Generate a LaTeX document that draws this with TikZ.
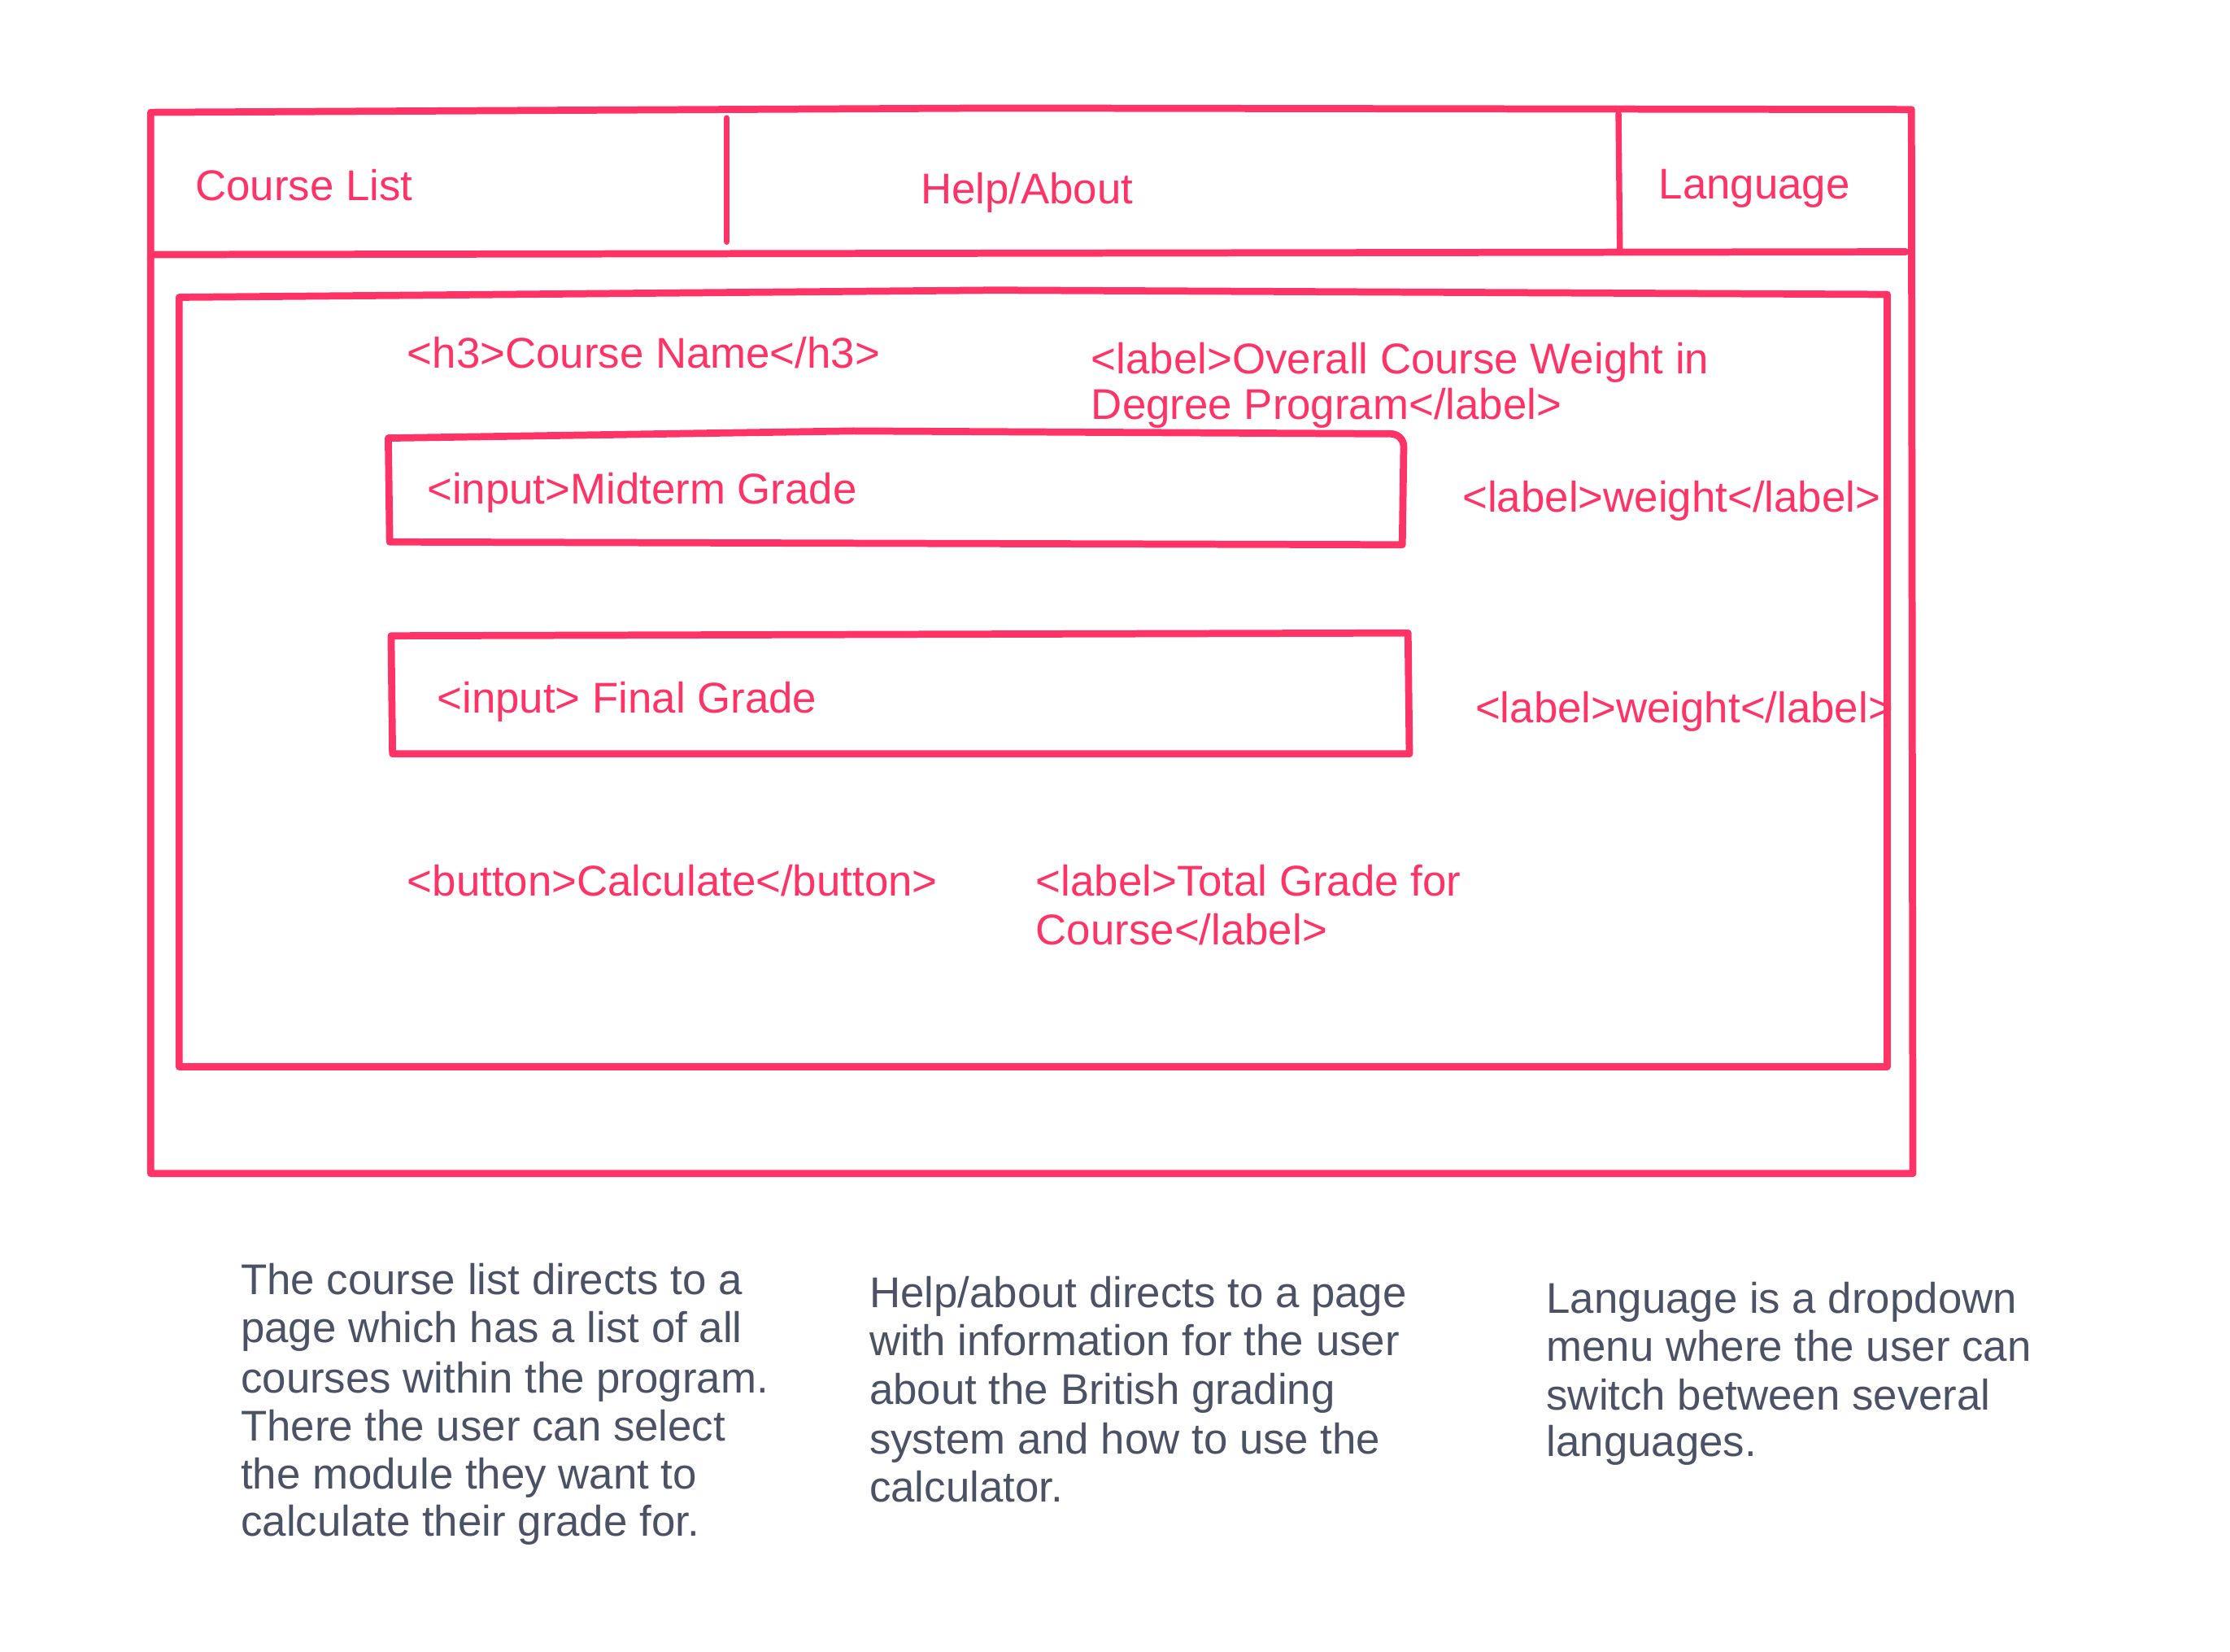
\documentclass[tikz,border=0pt]{standalone}
\usepackage{fontspec}
\setmainfont{Liberation Sans}
\definecolor{pinkc}{RGB}{255,51,102}
\definecolor{grayc}{RGB}{75,82,102}
\begin{document}
\begin{tikzpicture}[x=0.5pt,y=-0.5pt,
  sketch/.style={draw=pinkc,line width=2.5pt,line join=round,line cap=round},
  divider/.style={draw=pinkc,line width=2.1pt,line cap=round},
  ptxt/.style={text=pinkc,font=\fontsize{15.1}{17}\selectfont,anchor=base west,inner sep=0pt},
  gtxt/.style={text=grayc,font=\fontsize{15.1}{17}\selectfont,anchor=base west,inner sep=0pt}]
\useasboundingbox (0,0) rectangle (1568,1161.4);
% outer frame
\draw[sketch] (106,79) -- (700,76) -- (1344,77) -- (1345,825) -- (106,825) -- cycle;
% nav bar
\draw[sketch] (108,179) -- (1340,177);
\draw[divider] (511,83) -- (511,170);
\draw[divider] (1138,80) -- (1139,177);
% inner box
\draw[sketch] (126,209) -- (700,204) -- (1327,207) -- (1327,750) -- (126,750) -- cycle;
% midterm input
\draw[sketch] (273,308) -- (600,303) -- (978,305) to[out=0,in=90] (987,314) -- (986,383) -- (274,381) -- cycle;
% final input
\draw[sketch] (275,447) -- (990,445) -- (991,530) -- (276,530) -- cycle;
% nav texts
\node[ptxt] (cl) at (137,141) {Course List};
\node[ptxt] (ha) at (647,143) {Help/About};
\node[ptxt] (lg) at (1166,140) {Language};
% form texts
\node[ptxt] (h3) at (286,259) {<h3>Course Name</h3>};
\node[ptxt] (ow1) at (767,263) {<label>Overall Course Weight in};
\node[ptxt] (ow2) at (767,295) {Degree Program</label>};
\node[ptxt] (mg) at (300,354) {<input>Midterm Grade};
\node[ptxt] (w1) at (1028,360) {<label>weight</label>};
\node[ptxt] (fg) at (307,501) {<input> Final Grade};
\node[ptxt] (w2) at (1037,508) {<label>weight</label>};
\node[ptxt] (bt) at (286,630) {<button>Calculate</button>};
\node[ptxt] (tg1) at (728,630) {<label>Total Grade for};
\node[ptxt] (tg2) at (728,664) {Course</label>};
% descriptions
\node[gtxt] (a1) at (169,910) {The course list directs to a};
\node[gtxt] (a2) at (169,944) {page which has a list of all};
\node[gtxt] (a3) at (169,979) {courses within the program.};
\node[gtxt] (a4) at (169,1013) {There the user can select};
\node[gtxt] (a5) at (169,1047) {the module they want to};
\node[gtxt] (a6) at (169,1080) {calculate their grade for.};
\node[gtxt] (b1) at (611,919) {Help/about directs to a page};
\node[gtxt] (b2) at (611,953) {with information for the user};
\node[gtxt] (b3) at (611,987) {about the British grading};
\node[gtxt] (b4) at (611,1022) {system and how to use the};
\node[gtxt] (b5) at (611,1056) {calculator.};
\node[gtxt] (c1) at (1087,923) {Language is a dropdown};
\node[gtxt] (c2) at (1087,957) {menu where the user can};
\node[gtxt] (c3) at (1087,991) {switch between several};
\node[gtxt] (c4) at (1087,1024) {languages.};
\end{tikzpicture}
\end{document}
